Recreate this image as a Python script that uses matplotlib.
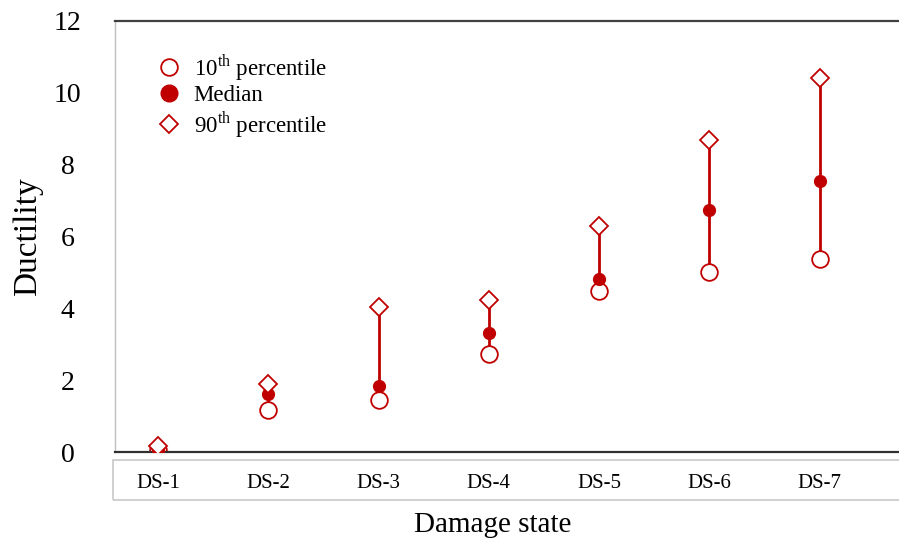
import matplotlib.pyplot as plt
from matplotlib.patches import Rectangle

plt.rcParams["font.family"] = "Liberation Serif"
plt.rcParams["mathtext.fontset"] = "custom"
plt.rcParams["mathtext.rm"] = "Liberation Serif"

# data
states = ["DS-1", "DS-2", "DS-3", "DS-4", "DS-5", "DS-6", "DS-7"]
p10 = [0.05, 1.17, 1.45, 2.73, 4.47, 5.00, 5.37]
median = [0.05, 1.62, 1.84, 3.32, 4.83, 6.75, 7.55]
p90 = [0.17, 1.90, 4.05, 4.24, 6.28, 8.68, 10.41]

red = "#c00000"
xs = list(range(len(states)))

fig = plt.figure(figsize=(8.99, 5.38), dpi=100)
ax = fig.add_axes([115 / 899, 1 - 452 / 538, 784 / 899, 431 / 538])

# range lines
ax.vlines(xs, p10, p90, color=red, linewidth=2, zorder=1)

ax.plot(xs, p10, linestyle="none", marker="o", markersize=12, markerfacecolor="white",
        markeredgecolor=red, markeredgewidth=1.3, label="10$^{\\mathrm{th}}$ percentile", zorder=2)
ax.plot(xs, median, linestyle="none", marker="o", markersize=8.5, color=red,
        label="Median", zorder=3)
ax.plot(xs, p90, linestyle="none", marker="D", markersize=9, markerfacecolor="white",
        markeredgecolor=red, markeredgewidth=1.3, label="90$^{\\mathrm{th}}$ percentile", zorder=4)

ax.set_ylim(0, 12)
ax.set_yticks(range(0, 13, 2))
ax.set_xlim(-0.39, 6.72)
ax.set_xticks(xs)
ax.set_xticklabels(states, fontsize=15)
ax.tick_params(axis="both", length=0)
ax.tick_params(axis="y", labelsize=20)
for lab in ax.get_yticklabels():
    lab.set_horizontalalignment("center")
ax.tick_params(axis="y", pad=34)
ax.tick_params(axis="x", pad=16)

ax.spines["right"].set_visible(False)
ax.spines["top"].set_color("#404040")
ax.spines["top"].set_linewidth(1.6)
ax.spines["bottom"].set_color("#303030")
ax.spines["bottom"].set_linewidth(1.6)
ax.spines["left"].set_color("#bfbfbf")
ax.spines["left"].set_linewidth(1.0)

ax.set_ylabel("Ductility", fontsize=24, labelpad=8)
ax.set_xlabel("Damage state", fontsize=21, labelpad=9)
ax.xaxis.set_label_coords(0.482, -0.14)

# box round the category labels
fig.patches.append(Rectangle((113 / 899, 1 - 500 / 538), 800 / 899, 40 / 538,
                             transform=fig.transFigure, fill=False,
                             edgecolor="#c8c8c8", linewidth=1.2))

leg = ax.legend(loc="upper left", bbox_to_anchor=(0.042, 0.95), frameon=False,
                fontsize=16.5, handlelength=1.0, handletextpad=0.6,
                labelspacing=0.12, borderaxespad=0)
leg.legend_handles[1].set_markersize(12)

fig.savefig("out.png", dpi=100)
